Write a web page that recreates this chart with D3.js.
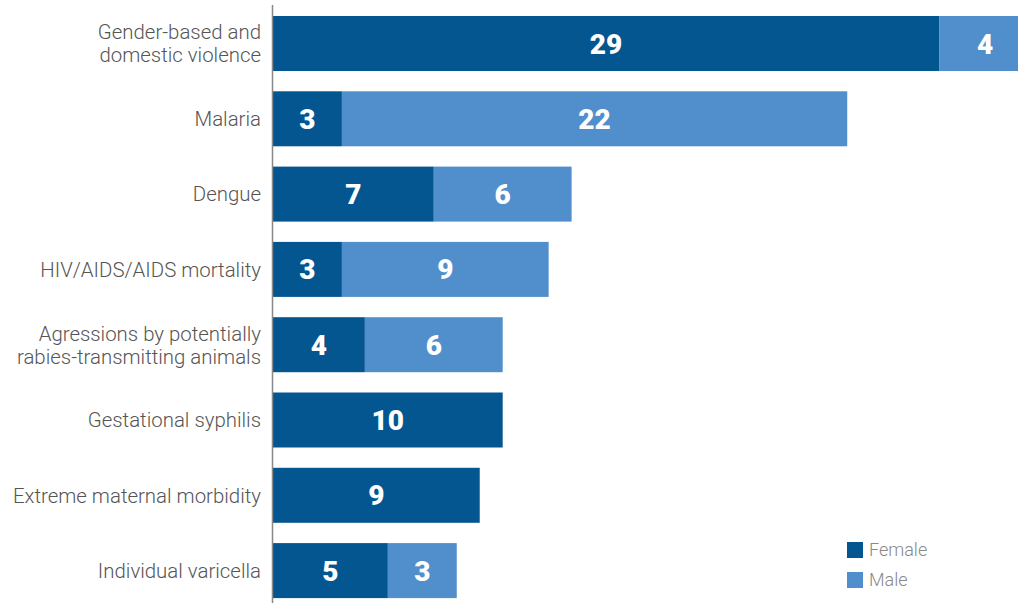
<!DOCTYPE html>
<html>
<head>
<meta charset="utf-8">
<script src="https://cdn.jsdelivr.net/npm/d3@7"></script>
<style>
  html, body { margin: 0; padding: 0; background: #fff; }
  svg { display: block; }
</style>
</head>
<body>
<svg id="chart" width="1018" height="603"></svg>
<script>
// Notified cases by event and sex
const categories = [
  ["Gender-based and", "domestic violence"],
  ["Malaria"],
  ["Dengue"],
  ["HIV/AIDS/AIDS mortality"],
  ["Agressions by potentially", "rabies-transmitting animals"],
  ["Gestational syphilis"],
  ["Extreme maternal morbidity"],
  ["Individual varicella"]
];
const female = [29, 3, 7, 3, 4, 10, 9, 5];
const male   = [4, 22, 6, 9, 6, 0, 0, 3];
const seriesNames = ["Female", "Male"];
const colors = ["#03568f", "#518fcc"];

const svg = d3.select("#chart");
const W = 1018, H = 603;
const x0 = 273;
const step = 75.3, barH = 55;

const x = d3.scaleLinear().domain([0, 33]).range([x0, x0 + 758]);
const y = d3.scaleBand()
  .domain(d3.range(categories.length))
  .range([16 - (step - barH) / 2, 16 - (step - barH) / 2 + step * categories.length])
  .paddingInner((step - barH) / step)
  .paddingOuter((step - barH) / 2 / step);

const rows = categories.map((c, i) => ({ i, parts: [female[i], male[i]] }));

const rowG = svg.append("g").selectAll("g").data(rows).join("g");

rowG.each(function(r) {
  const g = d3.select(this);
  let acc = 0;
  r.parts.forEach((v, k) => {
    if (!v) return;
    const a = acc, b = acc + v;
    acc = b;
    g.append("rect")
      .attr("x", x(a))
      .attr("y", y(r.i))
      .attr("width", x(b) - x(a))
      .attr("height", y.bandwidth())
      .attr("fill", colors[k]);
    g.append("text")
      .attr("x", (x(a) + x(b)) / 2)
      .attr("y", y(r.i) + y.bandwidth() / 2)
      .attr("dy", "0.36em")
      .attr("text-anchor", "middle")
      .attr("fill", "#fff")
      .attr("font-family", "Roboto, sans-serif")
      .attr("font-weight", 900)
      .attr("font-size", 28)
      .text(v);
  });
});

// category labels
const labelG = svg.append("g");
categories.forEach((lines, i) => {
  const cy = y(i) + y.bandwidth() / 2;
  const lh = 23;
  const t = labelG.append("text")
    .attr("text-anchor", "end")
    .attr("font-family", "Roboto, sans-serif")
    .attr("font-weight", 300)
    .attr("font-size", 20.4)
    .attr("fill", "#555");
  lines.forEach((ln, j) => {
    t.append("tspan")
      .attr("x", 261)
      .attr("y", cy + (j - (lines.length - 1) / 2) * lh)
      .attr("dy", "0.36em")
      .text(ln);
  });
});

// vertical axis line
svg.append("line")
  .attr("x1", x0 - 0.5).attr("x2", x0 - 0.5)
  .attr("y1", 5).attr("y2", H)
  .attr("stroke", "#888").attr("stroke-width", 1.5);

// legend
const legend = svg.append("g").attr("transform", "translate(847,542)");
seriesNames.forEach((n, k) => {
  const lg = legend.append("g").attr("transform", `translate(0,${k * 30})`);
  lg.append("rect").attr("width", 16).attr("height", 16).attr("fill", colors[k]);
  lg.append("text")
    .attr("x", 22).attr("y", 8).attr("dy", "0.35em")
    .attr("font-family", "Roboto, sans-serif")
    .attr("font-weight", 300)
    .attr("font-size", 18)
    .attr("fill", "#888")
    .text(n);
});
</script>
</body>
</html>
